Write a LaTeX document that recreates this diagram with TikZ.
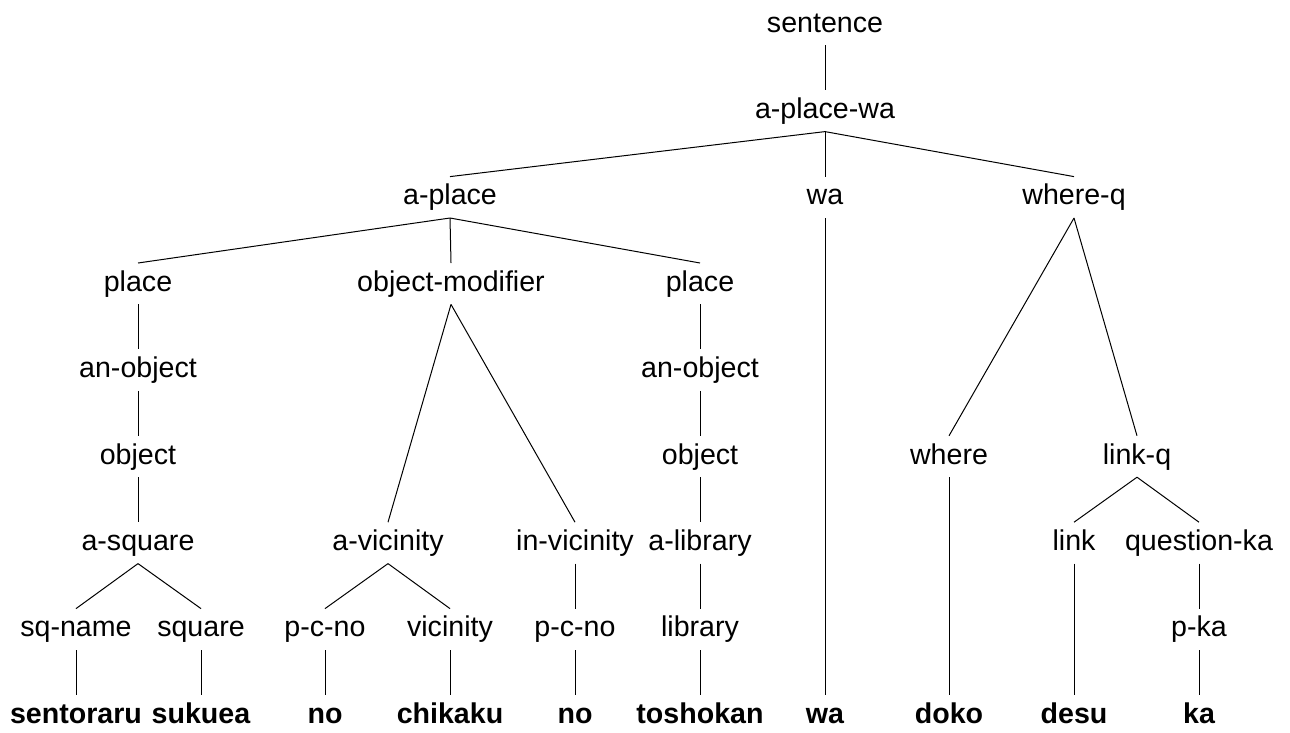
\documentclass[tikz,border=0pt]{standalone}
\usepackage{fontspec}
\setmainfont{Liberation Sans}
\begin{document}
\begin{tikzpicture}[x=1pt,y=-1pt,
  lab/.style={anchor=base,inner sep=0pt,text height=28pt,text depth=13pt,font=\fontsize{28.6}{34}\selectfont},
  leaf/.style={lab,font=\fontsize{28.6}{34}\selectfont\bfseries},
  edge/.style={line width=1pt,black}]
\useasboundingbox (0,0) rectangle (1290,732);
\def\ya{32}\def\yb{118.4}\def\yc{204.8}\def\yd{291.2}\def\ye{377.6}
\def\yf{464}\def\yg{550.4}\def\yh{636.8}\def\yi{723.2}
\node[lab] (s) at (825,\ya) {sentence};
\node[lab] (apw) at (825,\yb) {a-place-wa};
\node[lab] (ap) at (450,\yc) {a-place};
\node[lab] (wa) at (825,\yc) {wa};
\node[lab] (wq) at (1074,\yc) {where-q};
\node[lab] (pl1) at (138,\yd) {place};
\node[lab] (om) at (451,\yd) {object-modifier};
\node[lab] (pl2) at (700,\yd) {place};
\node[lab] (ao1) at (138,\ye) {an-object};
\node[lab] (ao2) at (700,\ye) {an-object};
\node[lab] (ob1) at (138,\yf) {object};
\node[lab] (ob2) at (700,\yf) {object};
\node[lab] (wh) at (949,\yf) {where};
\node[lab] (lq) at (1137,\yf) {link-q};
\node[lab] (asq) at (138,\yg) {a-square};
\node[lab] (avi) at (388,\yg) {a-vicinity};
\node[lab] (ivi) at (575,\yg) {in-vicinity};
\node[lab] (ali) at (700,\yg) {a-library};
\node[lab] (lk) at (1074,\yg) {link};
\node[lab] (qk) at (1199,\yg) {question-ka};
\node[lab] (sqn) at (76,\yh) {sq-name};
\node[lab] (sq) at (201,\yh) {square};
\node[lab] (pc1) at (325,\yh) {p-c-no};
\node[lab] (vi) at (450,\yh) {vicinity};
\node[lab] (pc2) at (575,\yh) {p-c-no};
\node[lab] (li) at (700,\yh) {library};
\node[lab] (pk) at (1199,\yh) {p-ka};
\node[leaf] (l1) at (76,\yi) {sentoraru};
\node[leaf] (l2) at (201,\yi) {sukuea};
\node[leaf] (l3) at (325,\yi) {no};
\node[leaf] (l4) at (450,\yi) {chikaku};
\node[leaf] (l5) at (575,\yi) {no};
\node[leaf] (l6) at (700,\yi) {toshokan};
\node[leaf] (l7) at (825,\yi) {wa};
\node[leaf] (l8) at (949,\yi) {doko};
\node[leaf] (l9) at (1074,\yi) {desu};
\node[leaf] (l10) at (1199,\yi) {ka};
\foreach \p/\c in {s/apw,apw/ap,apw/wa,apw/wq,ap/pl1,ap/om,ap/pl2,
  pl1/ao1,ao1/ob1,ob1/asq,asq/sqn,asq/sq,sqn/l1,sq/l2,
  om/avi,om/ivi,avi/pc1,avi/vi,pc1/l3,vi/l4,ivi/pc2,pc2/l5,
  pl2/ao2,ao2/ob2,ob2/ali,ali/li,li/l6,wa/l7,
  wq/wh,wq/lq,wh/l8,lq/lk,lq/qk,lk/l9,qk/pk,pk/l10}
  \draw[edge] (\p.south) -- (\c.north);
\end{tikzpicture}
\end{document}
